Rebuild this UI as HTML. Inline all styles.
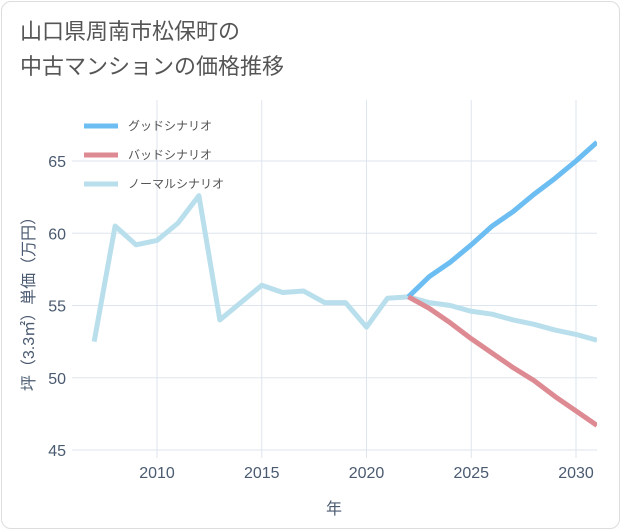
<!DOCTYPE html>
<html><head><meta charset="utf-8"><style>
body{margin:0;background:#fff;font-family:"Liberation Sans","Noto Sans CJK JP",sans-serif}
#card{position:absolute;left:1px;top:1px;width:617px;height:526px;border:1px solid #ddd;border-radius:10px;background:#fff}
#title{position:absolute;left:20px;top:14px;font-size:22px;line-height:35px;color:#555}
svg{position:absolute;left:0;top:0}
</style></head><body>
<div id="card"></div>
<div id="title">山口県周南市松保町の<br>中古マンションの価格推移</div>
<svg id="chart" width="621" height="530"></svg>
<script>
const years=[2007,2008,2009,2010,2011,2012,2013,2014,2015,2016,2017,2018,2019,2020,2021,2022,2023,2024,2025,2026,2027,2028,2029,2030,2031];
const normal=[52.5,60.5,59.2,59.5,60.7,62.6,54.0,55.2,56.4,55.9,56.0,55.2,55.2,53.5,55.5,55.6,55.2,55.0,54.6,54.4,54.0,53.7,53.3,53.0,52.6];
const goodYears=[2022,2023,2024,2025,2026,2027,2028,2029,2030,2031];
const good=[55.6,57.0,58.0,59.2,60.5,61.5,62.7,63.8,65.0,66.3];
const bad=[55.6,54.8,53.8,52.7,51.7,50.7,49.8,48.7,47.7,46.7];
const xTicks=[2010,2015,2020,2025,2030];
const yTicks=[45,50,55,60,65];
const NS="http://www.w3.org/2000/svg";
const svg=document.getElementById('chart');
const X=v=>157+(v-2010)*20.95;
const Y=v=>161+(65-v)*14.45;
const L=72,R=597,T=100,B=458;
function mk(t,a){const e=document.createElementNS(NS,t);for(const k in a)e.setAttribute(k,a[k]);svg.appendChild(e);return e;}
for(const t of xTicks){const l=mk('line',{x1:X(t),x2:X(t),y1:T,y2:B,stroke:'#dde6ee'});


const tx=mk('text',{x:X(t),y:478,'text-anchor':'middle','font-size':16,fill:'#4a5a70'});tx.textContent=t;

}
for(const t of yTicks){const l=mk('line',{x1:L,x2:R,y1:Y(t),y2:Y(t),stroke:'#dde6ee'});


const tx=mk('text',{x:66,y:Y(t)+6,'text-anchor':'end','font-size':16,fill:'#4a5a70'});tx.textContent=t;

}
const xt=mk('text',{x:334,y:514,'text-anchor':'middle','font-size':16,fill:'#4a5a70'});xt.textContent='年';


const yt=mk('text',{x:0,y:0,transform:'translate(34,300) rotate(-90)','text-anchor':'middle','font-size':16,fill:'#4a5a70'});yt.textContent='坪（3.3㎡）単価（万円）';


function line(xs,ys,c,name){const p=mk('polyline',{points:xs.map((x,i)=>X(x)+','+Y(ys[i])).join(' '),fill:'none',stroke:c,'stroke-width':5,'stroke-linejoin':'round'});

}
const cp=mk('clipPath',{id:'c'});const r=document.createElementNS(NS,'rect');r.setAttribute('x',L);r.setAttribute('y',T);r.setAttribute('width',R-L);r.setAttribute('height',B-T);cp.appendChild(r);
line(years,normal,'#b9dfec','normal-series-line');
line(goodYears,good,'#6cbdf2','good-series-line');
line(goodYears,bad,'#de8a93','bad-series-line');
svg.querySelectorAll('polyline').forEach(p=>p.setAttribute('clip-path','url(#c)'));
const leg=[['グッドシナリオ','#6cbdf2'],['バッドシナリオ','#de8a93'],['ノーマルシナリオ','#b9dfec']];
leg.forEach((d,i)=>{const y=126+i*29;const l=mk('line',{x1:84,x2:118,y1:y,y2:y,stroke:d[1],'stroke-width':5});


const t=mk('text',{x:128,y:y+4,'font-size':12,fill:'#555'});t.textContent=d[0];

});
</script>
</body></html>
